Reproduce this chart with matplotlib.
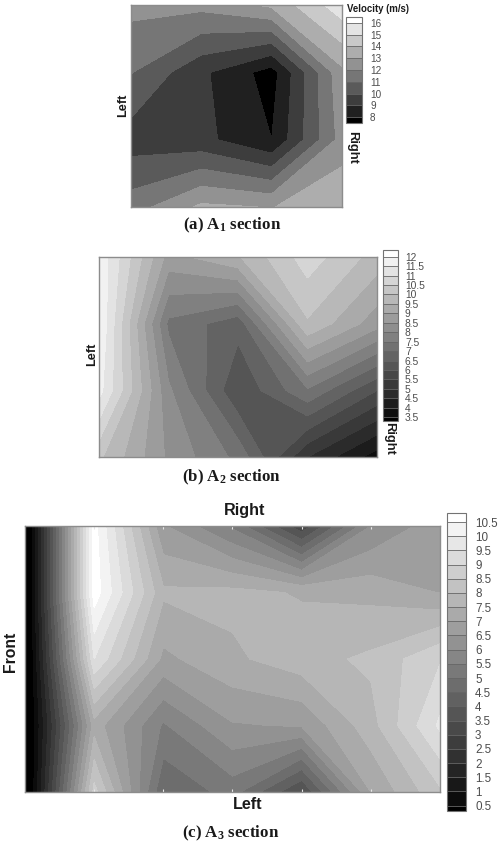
import matplotlib
matplotlib.use('Agg')
import matplotlib.pyplot as plt
import numpy as np

plt.rcParams['font.family'] = ['Liberation Sans', 'DejaVu Sans']
plt.rcParams['mathtext.fontset'] = 'custom'
plt.rcParams['mathtext.rm'] = 'Liberation Serif:bold'
plt.rcParams['mathtext.it'] = 'Liberation Serif:bold'
plt.rcParams['mathtext.bf'] = 'Liberation Serif:bold'

W, H = 503, 855

# velocity, rows go top to bottom
a_x = [0, 1, 2, 3]
a_y = [0, 1, 2, 3]
a_z = [[12.3, 12.3, 13.2, 15.6],
       [11.05, 9.2, 7.55, 12.75],
       [9.5, 9.3, 8.0, 12.4],
       [11.5, 13.2, 12.95, 13.9]]
a_levels = [7.5, 8, 9, 10, 11, 12, 13, 14, 15, 16, 16.5]
a_ticks = [8, 9, 10, 11, 12, 13, 14, 15, 16]

b_x = [0, 1, 2, 3, 4]
b_y = [0, 1, 2, 3]
b_z = [[11.9, 8.8, 9.45, 10.76, 9.78],
       [12.0, 7.38, 6.69, 9.93, 8.7],
       [11.7, 8.1, 6.05, 7.43, 6.0],
       [10.1, 8.4, 7.35, 5.0, 3.75]]
b_levels = [3.3, 3.5, 4, 4.5, 5, 5.5, 6, 6.5, 7, 7.5, 8, 8.5, 9, 9.5, 10, 10.5, 11, 11.5, 12, 12.35]
b_ticks = [3.5, 4, 4.5, 5, 5.5, 6, 6.5, 7, 7.5, 8, 8.5, 9, 9.5, 10, 10.5, 11, 11.5, 12]

c_x = [0, 1, 2, 3, 4, 5, 6]
c_y = [0, 1, 2, 3, 4]
c_z = [[-0.7, 10.7, 6.55, 5.4, 3.1, 6.0, 6.8],
       [-0.7, 10.8, 7.59, 7.65, 7.45, 7.35, 6.98],
       [-0.7, 9.5, 6.87, 7.4, 7.8, 8.1, 8.95],
       [-0.6, 7.26, 5.43, 6.45, 6.55, 7.8, 9.6],
       [-0.7, 8.7, 4.55, 5.2, 3.45, 7.0, 8.4]]
c_levels = [-1, 0.5, 1, 1.5, 2, 2.5, 3, 3.5, 4, 4.5, 5, 5.5, 6, 6.5, 7, 7.5, 8, 8.5, 9, 9.5, 10, 10.5, 11.5]
c_ticks = [0.5, 1, 1.5, 2, 2.5, 3, 3.5, 4, 4.5, 5, 5.5, 6, 6.5, 7, 7.5, 8, 8.5, 9, 9.5, 10, 10.5]


def box(x0, y0, x1, y1):
    return [x0 / W, 1 - y1 / H, (x1 - x0) / W, (y1 - y0) / H]


def grays(levels, gamma):
    n = len(levels) - 2
    return [str((i / n) ** gamma) for i in range(n + 1)]


def panel(fig, xs, ys, z, levels, ticks, ax_box, cb_box, fs, pad, gamma=1.0):
    ax = fig.add_axes(box(*ax_box))
    cs = ax.contourf(xs, ys, z, levels=levels, colors=grays(levels, gamma))
    ax.set_xlim(xs[0], xs[-1])
    ax.set_ylim(ys[-1], ys[0])
    ax.set_xticks([])
    ax.set_yticks([])
    for s in ax.spines.values():
        s.set_color('0.55')
        s.set_linewidth(1)

    cax = fig.add_axes(box(*cb_box))
    cb = fig.colorbar(cs, cax=cax, ticks=ticks, spacing='proportional', drawedges=True)
    cb.outline.set_edgecolor('0.45')
    cb.outline.set_linewidth(0.8)
    cb.dividers.set_color('0.4')
    cb.dividers.set_linewidth(0.6)
    cb.ax.set_yticklabels(['%g' % t for t in ticks])
    cb.ax.tick_params(length=0, pad=pad, labelsize=fs, labelcolor='0.3')
    return ax, cb


def label(fig, x, y, s, fs, rot=0):
    fig.text(x / W, 1 - y / H, s, fontsize=fs, fontweight='bold', rotation=rot,
             ha='center', va='center', color='0.1')


def caption(fig, x, y, s):
    fig.text(x / W, 1 - y / H, s, fontsize=12.2, fontweight='bold', family='Liberation Serif',
             ha='center', va='center', color='0.1')


fig = plt.figure(figsize=(W / 100, H / 100), dpi=100)

# (a)
panel(fig, a_x, a_y, a_z, a_levels, a_ticks, (131, 5, 342, 207), (346, 17, 362, 123), 7.2, 5.8, gamma=0.95)
label(fig, 123, 105, 'Left', 9.2, 90)
label(fig, 352, 147, 'Right', 9.4, -90)
label(fig, 378, 9, 'Velocity (m/s)', 6.9)
caption(fig, 232, 225, r'(a) A$_{1}$ section')

# (b)
panel(fig, b_x, b_y, b_z, b_levels, b_ticks, (99, 257, 377, 457), (383, 250, 398, 421), 7.4, 5)
label(fig, 92, 354, 'Left', 9.2, 90)
label(fig, 389, 438, 'Right', 9.4, -90)
caption(fig, 232, 477, r'(b) A$_{2}$ section')

# (c)
ax3, cb3 = panel(fig, c_x, c_y, c_z, c_levels, c_ticks, (25, 526, 440, 792), (447, 513, 466, 811), 8.4, 6.5)
cb3.ax.set_ylim(0.31, 10.82)
ax3.set_xticks(c_x[1:-1])
ax3.tick_params(length=2, width=0.8, color='0.9', direction='in', labelbottom=False, top=True)
label(fig, 245, 510, 'Right', 11.6)
label(fig, 248, 804, 'Left', 11.6)
label(fig, 10, 652, 'Front', 11.3, 90)
caption(fig, 231, 833, r'(c) A$_{3}$ section')

fig.savefig('out.png', dpi=100)
